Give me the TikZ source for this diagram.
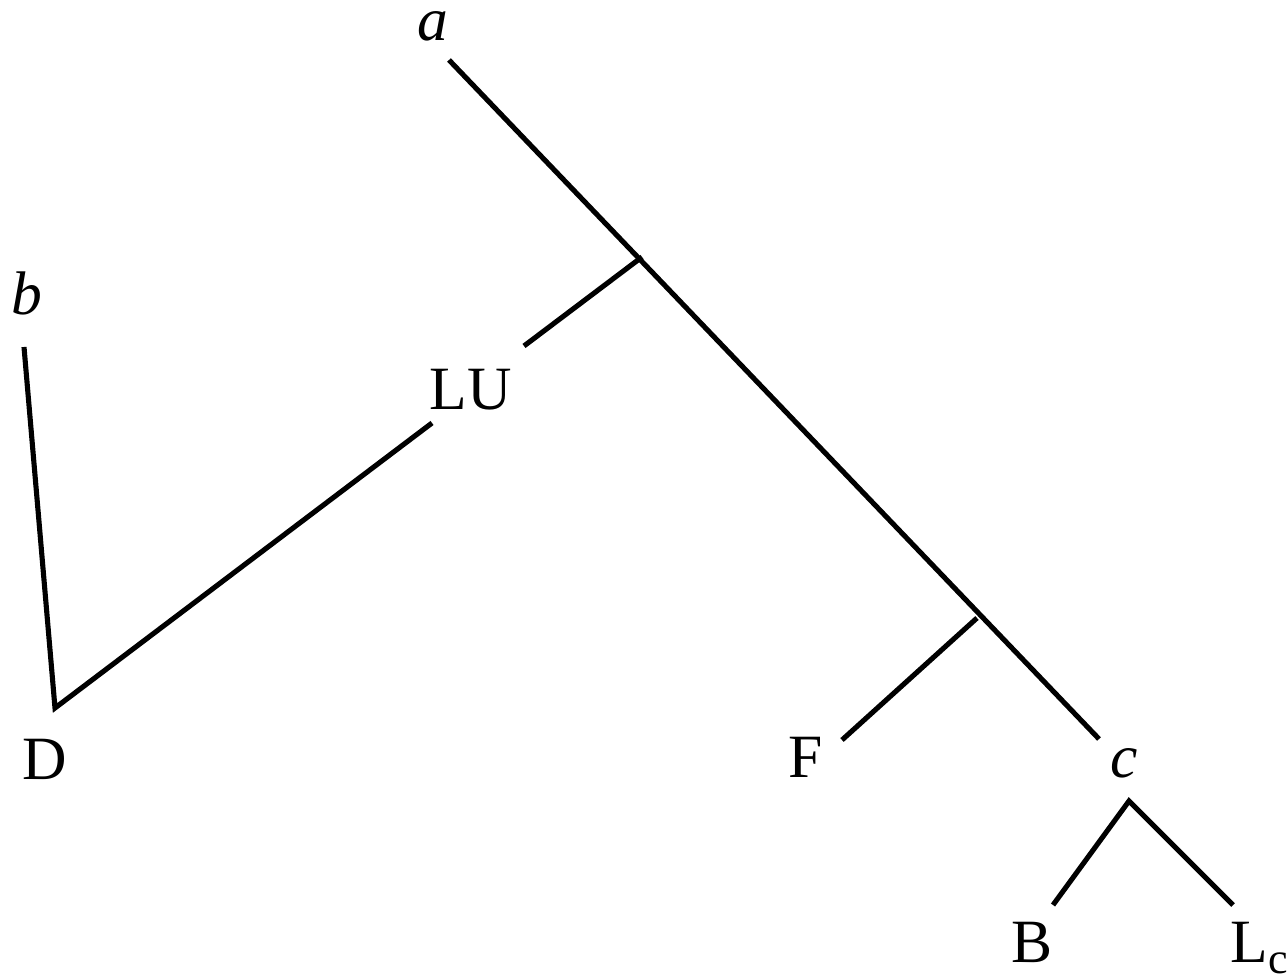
\documentclass[tikz,border=0pt]{standalone}
\usepackage{fontspec}
\setmainfont{Liberation Serif}
\begin{document}
\begin{tikzpicture}[x=0.01cm,y=-0.01cm,
  edge/.style={line width=1.45pt},
  lbl/.style={anchor=base,inner sep=0pt,font=\fontsize{17.5}{21}\selectfont}]
\useasboundingbox (0,0) rectangle (1288,980);
% end points
\coordinate (aT) at (449,60);
\coordinate (cT) at (1099,739);
\coordinate (j1) at (642,257);
\coordinate (luT) at (524,346);
\coordinate (luB) at (432,423);
\coordinate (dT) at (55,708);
\coordinate (bB) at (24,347);
\coordinate (j2) at (977,618);
\coordinate (fT) at (842,740);
\coordinate (cB) at (1129,801);
\coordinate (bT) at (1053,905);
\coordinate (lcT) at (1233,905);
% labels
\node[lbl] (a) at (433,41) {\textit{a}};
\node[lbl] (b) at (27,315) {\textit{b}};
\node[lbl] (LU) at (471,410) {LU};
\node[lbl] (D) at (45,780) {D};
\node[lbl] (F) at (806,778) {F};
\node[lbl] (c) at (1124,778) {\textit{c}};
\node[lbl] (B) at (1032,962) {B};
\node[lbl] (Lc) at (1259,962) {L\raisebox{-0.4ex}{\fontsize{12.5}{14}\selectfont c}};
% connectors
\draw[edge] (aT) -- (cT);
\draw[edge] (j1) -- (luT);
\draw[edge] (luB) -- (dT) -- (bB);
\draw[edge] (j2) -- (fT);
\draw[edge] (bT) -- (cB) -- (lcT);
\end{tikzpicture}
\end{document}
